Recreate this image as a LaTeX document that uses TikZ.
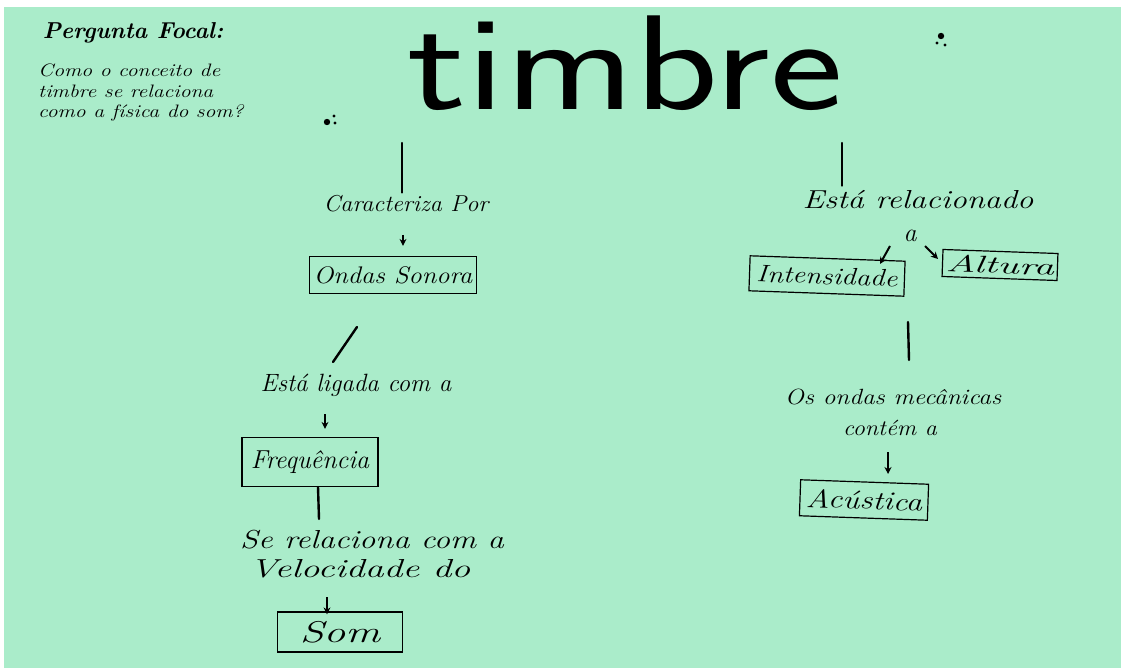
\documentclass[tikz,border=0pt]{standalone}
\usetikzlibrary{arrows.meta}
\definecolor{paper}{RGB}{170,236,202}
\begin{document}
\begin{tikzpicture}[x=1pt,y=-1pt,
  hand/.style={font=\fontsize{22}{26}\selectfont\itshape, inner sep=0pt},
  ln/.style={line width=2.4pt, line cap=round},
  arr/.style={line width=2pt, -{Stealth[length=7pt,width=7pt]}},
  frame/.style={draw, line width=1.2pt, inner sep=0pt, font=\fontsize{24}{28}\selectfont\itshape}]
\useasboundingbox (0,0) rectangle (1121,668);
\fill[white] (0,0) rectangle (1121,668);
\fill[paper] (4,7) rectangle (1121,668);
% focal question
\node[font=\fontsize{23}{26}\selectfont\bfseries\itshape, inner sep=0pt] (pf) at (133,33) {Pergunta Focal:};
\node[font=\fontsize{18}{20.5}\selectfont\itshape, align=left, anchor=north west, inner sep=0pt, xscale=1.2] (q) at (38,64)
  {Como o conceito de\\timbre se relaciona\\como a física do som?};
% dots
\fill (327,122) circle (3.2); \fill (334,116) circle (1.6); \fill (335,123) circle (1.6);
\fill (941,36) circle (3.2); \fill (937,43) circle (1.6); \fill (945,45) circle (1.6);
% title
\node[font=\fontsize{150}{152}\selectfont\sffamily, xscale=1.16, yscale=0.9, inner sep=0pt, anchor=base] (title) at (625,110) {timbre};
% left branch
\coordinate (t1) at (402,143);
\node[hand, font=\fontsize{23}{26}\selectfont\itshape, xscale=1.05] (cp) at (406,204) {Caracteriza Por};
\draw[ln] (t1) -- (t1 |- cp.north) [shorten >=3pt];
\node[frame, minimum width=167pt, minimum height=37pt] (os) at (393,275) {\scalebox{1.1}[1]{Ondas Sonora}};
\coordinate (a1) at (403,235);
\draw[arr] (a1) -- (a1 |- os.north) [shorten >=10pt];
\node[hand, font=\fontsize{25}{28}\selectfont\itshape] (el) at (356,385) {Está ligada com a};
\coordinate (d1) at (357,327);
\draw[ln] (d1) -- (333,362);
\node[frame, minimum width=136pt, minimum height=49pt, font=\fontsize{26}{28}\selectfont\itshape] (fr) at (310,462) {Frequência};
\coordinate (a2) at (325,414);
\draw[arr] (a2) -- (a2 |- fr.north) [shorten >=8pt];
\node[hand, font=\fontsize{26}{28}\selectfont\itshape, xscale=1.25] (sr) at (372,540) {Se relaciona com a};
\node[hand, font=\fontsize{26}{28}\selectfont\itshape, xscale=1.45] (vd) at (360,569) {Velocidade do};
\coordinate (b1) at (318,487);
\draw[ln] (b1) -- (319,519);
\node[frame, minimum width=125pt, minimum height=40pt, font=\fontsize{30}{32}\selectfont\itshape] (som) at (340,632) {\scalebox{1.45}[1]{Som}};
\coordinate (a3) at (327,597);
\draw[arr] (a3) -- (a3 |- som.north) [shorten >=-3pt];
% right branch
\coordinate (t2) at (842,143);
\node[hand, font=\fontsize{26}{28}\selectfont\itshape, xscale=1.25] (er) at (918,200) {Está relacionado};
\draw[ln] (t2) -- (t2 |- er.north) [shorten >=5pt];
\node[hand, font=\fontsize{26}{28}\selectfont\itshape] (a) at (910,236) {a};
\node[frame, minimum width=155pt, minimum height=35pt, rotate=-2] (in) at (827,276) {\scalebox{1.2}[1]{Intensidade}};
\node[frame, minimum width=115pt, minimum height=27pt, rotate=-2] (al) at (1000,265) {\scalebox{1.7}[1]{Altura}};
\coordinate (a4) at (890,246);
\draw[arr] (a4) -- (880,264);
\coordinate (a5) at (925,246);
\draw[arr] (a5) -- (938,259);
\coordinate (c1) at (908,322);
\draw[ln] (c1) -- (909,360);
\node[hand, xscale=1.15] (om) at (893,397) {Os ondas mecânicas};
\node[hand, xscale=1.1] (ct) at (890,428) {contém a};
\node[frame, minimum width=128pt, minimum height=36pt, rotate=-2, font=\fontsize{26}{28}\selectfont\itshape] (ac) at (864,500) {\scalebox{1.25}[1]{Acústica}};
\coordinate (a6) at (888,452);
\draw[arr] (a6) -- (888,474);
\end{tikzpicture}
\end{document}
